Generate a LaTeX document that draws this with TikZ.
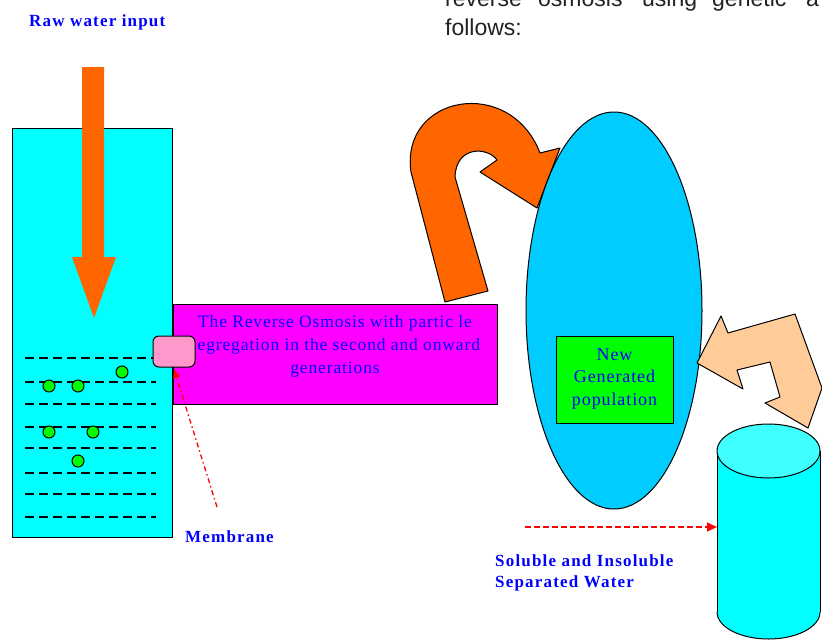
\documentclass[tikz,border=0pt]{standalone}
\usepackage{fontspec}
\setmainfont{Liberation Serif}
\newfontfamily\pagefont{Liberation Sans}
\newfontfamily\slidefont[LetterSpace=5]{Liberation Serif}
\newfontfamily\labelfont[LetterSpace=7]{Liberation Serif}
\usetikzlibrary{arrows.meta}
\definecolor{tankcyan}{HTML}{00FFFF}
\definecolor{rawarrow}{HTML}{FF6600}
\definecolor{rovioled}{HTML}{FF00FF}
\definecolor{popblue}{HTML}{00CCFF}
\definecolor{popgreen}{HTML}{00FF00}
\definecolor{membpink}{HTML}{FF99CC}
\definecolor{peach}{HTML}{FFCC99}
\definecolor{labelblue}{HTML}{0000FF}
\definecolor{bodytext}{HTML}{222222}

\begin{document}
\begin{tikzpicture}[x=1pt,y=-1pt,
  outline/.style={draw=black, line width=1pt},
  level/.style={draw=black, line width=1.3pt, dash pattern=on 9pt off 5pt},
  particle/.style={outline, fill=popgreen},
  boxnode/.style={outline, inner sep=0pt, rectangle},
  bluetxt/.style={text=labelblue, font=\slidefont\fontsize{17.5}{23}\selectfont, inner sep=0pt, align=center},
  boldlabel/.style={text=labelblue, font=\labelfont\bfseries\fontsize{17}{21}\selectfont, inner sep=0pt, align=left, anchor=base west},
  pagetext/.style={text=bodytext, font=\pagefont\fontsize{23}{28}\selectfont, inner sep=0pt, anchor=base west},
  pointer/.style={draw=red, line width=1.3pt},
]
\useasboundingbox (0,0) rectangle (822,640);
\clip (0,0) rectangle (822,640);
\fill[white] (0,0) rectangle (822,640);

% running text of the page above the figure
\node[pagetext] (w1) at (445,6) {reverse};
\node[pagetext] (w2) at (538,6) {osmosis};
\node[pagetext] (w3) at (642,6) {using};
\node[pagetext] (w4) at (712,6) {genetic};
\node[pagetext] (w5) at (806,6) {a};
\node[pagetext] (w6) at (445,35) {follows:};

% feed tank with water levels and particles
\node[boxnode, fill=tankcyan, minimum width=160pt, minimum height=409pt] (tank) at (92,332.5) {};
\foreach \yy in {358,382,404,427,448,473,494,517}
  \draw[level] (25,\yy) -- (156,\yy);
\foreach \px/\py in {49/386,78/386,122/372,49/432,93/432,78/461}
  \draw[particle] (\px,\py) circle [radius=6];

% raw water inlet arrow
\fill[rawarrow] (82,67) -- (104,67) -- (104,257) -- (116,257) -- (94,318)
  -- (72,257) -- (82,257) -- cycle;
\node[boldlabel] (rawlbl) at (29,26) {Raw water input};

% reverse osmosis stage
\node[boxnode, fill=rovioled, minimum width=324pt, minimum height=100pt] (ro) at (335,354) {};
\node[bluetxt] (rotext) at (335,346) {The Reverse Osmosis with partic le\\segregation in the second and onward\\generations};
\node[outline, fill=membpink, rounded corners=6pt, minimum width=42pt, minimum height=31pt, inner sep=0pt] (membrane) at (174,351.5) {};

% membrane pointer
\node[boldlabel] (memblbl) at (185,542) {Membrane};
\coordinate (membtail) at (217,507);
\coordinate (membtip) at (174,369);
\draw[pointer, dash pattern=on 5pt off 3pt on 1.5pt off 3pt, -{Triangle[length=9pt,width=7pt]}] (membtail) -- (membtip);

% U-turn arrow into the population
\draw[outline, fill=rawarrow, line join=round] (445,302) -- (411,172)
  .. controls (400,95) and (510,75) .. (540,153)
  -- (560,148) -- (537,208) -- (480,172) -- (497,160)
  .. controls (488,147) and (456,145) .. (455,177)
  -- (488,291) -- cycle;

% population ellipse
\draw[outline, fill=popblue] (614,310.5) ellipse [x radius=88, y radius=198.5];
\node[boxnode, fill=popgreen, minimum width=117pt, minimum height=87pt] (newpop) at (614.5,379.5) {};
\node[bluetxt, text width=115pt, font=\slidefont\fontsize{18}{22.5}\selectfont] (poptext) at (614.5,379) {New\\Generated\\population};

% bent double arrow between population and output
\draw[outline, fill=peach, line join=round] (697,363) -- (721,316) -- (728,333) -- (795,314)
  -- (822,388) -- (808,428) -- (765,403) -- (780,397) -- (770,362)
  -- (737,370) -- (743,389) -- cycle;

% separated water cylinder
\fill[tankcyan] (717,451) rectangle (820,612);
\fill[tankcyan] (768.5,612) ellipse [x radius=51.5, y radius=27];
\begin{scope}
  \clip (700,612) rectangle (830,660);
  \draw[outline] (768.5,612) ellipse [x radius=51.5, y radius=27];
\end{scope}
\draw[outline] (717,451) -- (717,612);
\draw[outline] (820,451) -- (820,612);
\draw[outline, fill=tankcyan!75!white] (768.5,451) ellipse [x radius=51.5, y radius=27];
\coordinate (outtail) at (525,527);
\coordinate (outtip) at (717,527);
\draw[pointer, dash pattern=on 6pt off 3pt, -{Triangle[length=10pt,width=9pt]}] (outtail) -- (outtip);
\node[boldlabel] (outlbl) at (495,587) {Soluble and Insoluble\\Separated Water};
\end{tikzpicture}
\end{document}
